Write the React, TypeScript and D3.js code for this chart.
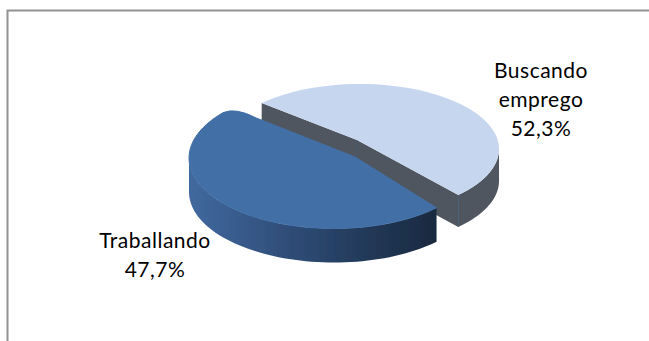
import React from "react";
import * as d3 from "d3";

const categories = ["Buscando emprego", "Traballando"];
const values = [52.3, 47.7];
const labelLines = [["Buscando", "emprego"], ["Traballando"]];

const width = 649;
const height = 341;
const DEG = Math.PI / 180;

// Each 3-D slice is a flattened ellipse; Excel's perspective makes both cuts nearly diametral.
const geometry = [
  { cx: 360, cy: 149, rx: 139, ry: 65, vx: 357, vy: 140, depth: 32 },
  { cx: 334, cy: 158, rx: 145, ry: 70.5, vx: 355, vy: 157, depth: 34 },
];
const labelPos = [
  { x: 541, y: 78 },
  { x: 155, y: 248 },
];
const lineStep = 29;

const pie = d3
  .pie<number>()
  .sort(null)
  .startAngle(-49.15 * DEG)
  .endAngle(310.85 * DEG);
const arcs = pie(values);

function rim(i: number, from: number, to: number) {
  const g = geometry[i];
  return d3.range(0, 61).map((k) => {
    const a = from + ((to - from) * k) / 60;
    return [g.cx + g.rx * Math.sin(a), g.cy - g.ry * Math.cos(a)] as [number, number];
  });
}

// straighten a slice's sweep to the half-ellipse it occupies on screen
function warped(i: number) {
  const mid = (arcs[i].startAngle + arcs[i].endAngle) / 2;
  return [mid - Math.PI / 2, mid + Math.PI / 2];
}

const line = d3.line();

function wall(points: [number, number][], depth: number) {
  const lower = points.map(([x, y]) => [x, y + depth] as [number, number]).reverse();
  return line([...points, ...lower]) + "Z";
}

export default function App() {
  const [ls, le] = warped(0);
  const [ds, de] = warped(1);
  const lg = geometry[0];
  const dg = geometry[1];

  const lightRim = rim(0, ls, le);
  const lightTop = line([[lg.vx, lg.vy], ...lightRim]) + "Z";

  // dark slice: its far corner is rounded off in the reference
  const darkRim = rim(1, ds, de - 5 * DEG);
  const darkTip = rim(1, de, de)[0];
  const roundTo: [number, number] = [
    darkTip[0] + (dg.vx - darkTip[0]) * 0.2,
    darkTip[1] + (dg.vy - darkTip[1]) * 0.2,
  ];
  const darkTop =
    line(darkRim) +
    `Q${darkTip[0] + 4},${darkTip[1] - 1} ${roundTo[0]},${roundTo[1]}L${dg.vx},${dg.vy}Z`;

  const t1 = lightRim[0];
  const t2 = lightRim[lightRim.length - 1];
  const lightFace = wall([t1, [lg.vx, lg.vy], t2], lg.depth);
  // visible outer wall of the light slice: right extreme to the front tip
  const lightOuter = wall(rim(0, 90 * DEG, le), lg.depth);
  // visible outer wall of the dark slice: front tip round to the left extreme
  const darkOuter = wall(rim(1, ds, 270 * DEG), dg.depth);

  const labels = categories.map((_, i) => [
    ...labelLines[i],
    values[i].toFixed(1).replace(".", ",") + "%",
  ]);

  return (
    <svg
      width={width}
      height={height}
      viewBox={`0 0 ${width} ${height}`}
      style={{ position: "absolute", left: 0, top: 0, background: "#fff" }}
    >
      <defs>
        <linearGradient id="darkWall" gradientUnits="userSpaceOnUse" x1={189} x2={437} y1={0} y2={0}>
          <stop offset="0" stopColor="#41699f" />
          <stop offset="0.4" stopColor="#2f4d78" />
          <stop offset="0.75" stopColor="#213755" />
          <stop offset="1" stopColor="#19293f" />
        </linearGradient>
        <filter id="soft" x="-5%" y="-5%" width="110%" height="110%">
          <feGaussianBlur stdDeviation="0.45" />
        </filter>
      </defs>

      <path d="M7.5 341V10.5H649" fill="none" stroke="#929292" strokeWidth={2} />

      <g filter="url(#soft)">
        <path d={lightFace} fill="#50565f" />
        <path d={lightOuter} fill="#50565f" />
        <line x1={lg.vx} x2={lg.vx} y1={lg.vy} y2={lg.vy + lg.depth} stroke="#465a72" />
        <line x1={t2[0]} x2={t2[0]} y1={t2[1]} y2={t2[1] + lg.depth} stroke="#465a72" />
        <path d={lightTop} fill="#c5d6ee" />
        <path d={darkOuter} fill="url(#darkWall)" />
        <path d={darkTop} fill="#4270a6" stroke="#4270a6" strokeWidth={1} strokeLinejoin="round" />
      </g>

      {labels.map((rows, i) => (
        <text
          key={categories[i]}
          textAnchor="middle"
          fontFamily="Lato, 'Open Sans', sans-serif"
          fontSize={21}
          letterSpacing={0.5}
          fill="#000"
        >
          {rows.map((row, j) => (
            <tspan key={row} x={labelPos[i].x} y={labelPos[i].y + j * lineStep}>
              {row}
            </tspan>
          ))}
        </text>
      ))}
    </svg>
  );
}
